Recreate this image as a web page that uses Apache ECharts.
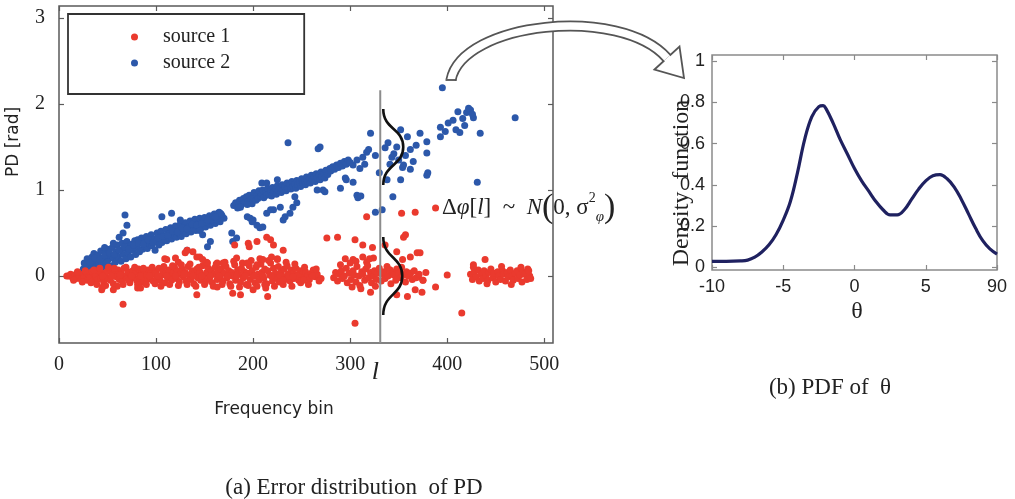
<!DOCTYPE html>
<html><head><meta charset="utf-8">
<script src="https://cdn.jsdelivr.net/npm/echarts@6/dist/echarts.min.js"></script>
<style>html,body{margin:0;padding:0;background:#fff}#c{width:1015px;height:499px}</style>
</head><body><div id="c"></div>
<script>
const seriesNames = ['source 1', 'source 2'];

const source1Points = [
[8,0.00],[10,0.00],[12,0.02],[14,-0.02],[16,0.01],[18,-0.03],[20,0.03],[21,0.00],[23,-0.04],[25,0.02],[26,-0.01],[28,0.04],[29,-0.05],[31,0.01],[32,-0.02],[34,0.05],[35,-0.06],[37,0.02],[38,0.00],[40,-0.04],[41,0.06],[43,-0.02],[44,0.03],[46,-0.07],[47,0.01],[49,0.05],[50,-0.03],[52,0.08],[53,-0.05],[55,0.02],[56,-0.09],[58,0.04],[59,-0.01],[61,0.07],[62,-0.04],[64,0.03],[65,-0.06],[67,0.09],[68,0.00],[70,-0.03],[71,0.05],[73,-0.08],[74,0.02],[76,0.06],[77,-0.02],[79,0.04],[80,-0.05],[82,0.08],[83,-0.01],[85,0.03],[86,-0.07],[88,0.05],[89,0.00],[91,-0.04],[92,0.07],[94,-0.02],[95,0.04],[97,-0.06],[98,0.02],[100,0.06],[101,-0.03],[103,0.09],[104,-0.05],[106,0.01],[107,0.05],[109,-0.08],[110,0.03],[112,-0.02],[113,0.07],[115,0.00],[116,-0.05],[118,0.04],[119,0.10],[121,-0.03],[122,0.06],[124,-0.07],[125,0.02],[127,0.08],[128,-0.01],[130,0.04],[131,-0.06],[133,0.11],[134,0.01],[136,-0.04],[137,0.06],[139,-0.09],[140,0.03],[142,0.08],[143,-0.02],[145,0.05],[146,-0.05],[148,0.12],[149,0.00],[151,-0.07],[152,0.04],[154,0.09],[155,-0.03],[157,0.06],[158,-0.08],[160,0.02],[161,0.10],[163,-0.04],[164,0.05],[166,-0.01],[167,0.08],[169,-0.06],[170,0.03],[172,0.11],[173,-0.02],[175,0.06],[176,-0.09],[178,0.04],[179,0.00],[181,0.13],[182,-0.05],[184,0.07],[185,0.02],[187,-0.07],[188,0.09],[190,-0.02],[191,0.05],[193,-0.10],[194,0.03],[196,0.12],[197,-0.04],[199,0.06],[200,0.00],[202,-0.08],[203,0.10],[205,0.02],[206,-0.05],[208,0.14],[209,0.04],[211,-0.03],[212,0.08],[214,-0.09],[215,0.06],[217,0.01],[218,0.15],[220,-0.06],[221,0.09],[223,0.03],[224,-0.02],[226,0.11],[227,-0.07],[229,0.05],[230,0.00],[232,0.08],[233,-0.04],[235,0.12],[236,0.02],[238,-0.06],[239,0.07],[241,0.03],[242,-0.03],[244,0.09],[245,0.01],[247,-0.05],[248,0.06],[250,0.02],[252,-0.02],[254,0.05],[256,0.00],[258,-0.04],[260,0.03],[262,0.07],[264,-0.01],[266,0.02],[270,-0.03],
[15,-0.05],[19,0.05],[24,-0.07],[27,0.06],[33,-0.08],[36,0.07],[39,-0.10],[42,0.09],[45,0.00],[48,-0.11],[51,0.10],[54,0.00],[57,0.09],[60,-0.12],[63,0.01],[66,-0.10],[69,0.10],[72,-0.05],[75,0.00],[78,0.10],[81,-0.10],[84,0.00],[87,0.09],[90,-0.10],[93,0.00],[96,0.10],[99,-0.09],[102,0.00],[105,-0.12],[108,0.11],[111,0.00],[114,-0.10],[117,0.12],[120,0.00],[123,-0.11],[126,0.13],[129,0.02],[132,-0.10],[135,0.14],[138,0.00],[141,-0.12],[144,0.10],[147,0.00],[150,-0.10],[153,0.15],[156,0.00],[159,-0.12],[162,0.14],[165,0.00],[168,-0.10],[171,0.16],[174,0.00],[177,-0.12],[180,0.17],[183,0.00],[186,-0.13],[189,0.15],[192,0.00],[195,-0.11],[198,0.18],[201,0.00],[204,-0.12],[207,0.20],[210,0.00],[213,-0.14],[216,0.18],[219,0.00],[222,-0.12],[225,0.20],[228,0.00],[231,-0.10],[234,0.16],[237,0.00],[240,-0.12],[243,0.14],[246,0.00],[249,-0.08],[253,0.10],[257,-0.10],[261,0.00],[265,0.08],[268,-0.06],
[109,0.20],[120,0.21],[130,0.27],[138,0.28],[145,0.22],[152,0.16],[181,0.36],[183,0.21],[195,0.38],[196,0.34],[204,0.40],[214,0.45],[218,0.42],[221,0.36],[219,0.22],[225,0.19],[231,0.30],[194,0.15],[204,0.13],[210,0.19],[111,0.19],[123,0.16],[132,0.30],[142,0.22],[148,0.19],[163,0.15],[169,0.15],
[142,-0.22],[66,-0.33],[81,-0.14],[84,-0.14],[44,-0.16],[45,-0.13],[56,-0.16],[215,-0.24],[179,-0.20],[187,-0.22],[163,-0.13],[200,-0.16],[231,-0.05],[241,-0.01],[250,-0.05],[212,-0.10],[252,-0.05],
[276,0.44],[287,0.45],[305,0.42],[313,0.36],[317,0.69],[305,-0.55],[323,0.33],[303,0.19],[313,0.22],[317,0.16],[324,0.21],[336,0.36],[348,0.28],[354,0.19],[362,0.22],[369,0.27],[357,0.48],[355,0.45],[372,0.27],[353,0.73],[367,0.74],[388,0.79],[341,0.07],[351,0.01],[362,0.03],[370,-0.01],[375,-0.05],[348,-0.22],[359,-0.24],[367,-0.16],[374,-0.19],[388,-0.13],[400,0.01],[415,-0.43],[439,0.19],[427,0.13],
[283,-0.02],[285,0.04],[287,-0.06],[289,0.02],[291,0.06],[292,-0.03],[294,0.00],[296,0.09],[297,-0.08],[299,0.03],[300,0.15],[301,-0.04],[303,0.06],[304,0.01],[306,-0.07],[307,0.11],[309,0.00],[310,-0.11],[312,0.05],[313,0.02],[315,-0.05],[316,0.08],[318,0.12],[319,-0.02],[321,0.04],[322,-0.08],[324,0.00],[325,0.06],[327,-0.04],[328,0.03],[330,0.09],[332,-0.06],[333,0.02],[335,0.05],[336,-0.03],[338,0.11],[339,0.00],[341,0.07],[342,-0.09],[344,0.04],[345,0.01],[347,-0.05],[348,0.08],[350,0.03],[352,-0.02],[353,0.10],[355,0.01],[357,-0.07],[358,0.05],[360,0.00],[362,0.03],[364,-0.04],[366,0.06],[368,-0.02],[371,0.02],[375,-0.05],[378,0.04],[295,0.20],[290,0.13],[306,0.17],[320,0.20],[311,-0.15],[326,-0.12],[302,-0.13],[321,-0.19],
[424,0.02],[426,-0.04],[428,0.05],[430,-0.01],[432,0.07],[433,-0.06],[435,0.02],[437,-0.03],[438,0.06],[440,0.00],[442,-0.05],[443,0.04],[445,0.08],[447,-0.02],[448,0.03],[450,-0.07],[452,0.05],[453,0.00],[455,-0.04],[457,0.06],[458,0.02],[460,-0.06],[462,0.04],[463,-0.01],[465,0.07],[467,0.00],[468,-0.05],[470,0.03],[472,0.06],[473,-0.03],[475,0.01],[477,-0.07],[478,0.05],[480,0.02],[482,-0.04],[483,0.08],[485,0.00],[486,-0.03],[427,0.10],[441,-0.09],[456,0.11],[466,-0.10],[476,0.10],[484,0.06]
];

const source2Points = [
[25,0.08],[26,0.15],[28,0.10],[29,0.20],[30,0.12],[31,0.18],[33,0.09],[34,0.22],[35,0.14],[36,0.26],[38,0.11],[39,0.19],[40,0.24],[41,0.13],[43,0.29],[44,0.17],[45,0.21],[46,0.10],[48,0.27],[49,0.15],[50,0.31],[51,0.19],[53,0.24],[54,0.12],[55,0.33],[56,0.21],[58,0.16],[59,0.28],[60,0.36],[61,0.22],[63,0.30],[64,0.17],[65,0.38],[66,0.25],[68,0.32],[69,0.20],[70,0.40],[71,0.27],[73,0.35],[74,0.22],[75,0.37],[76,0.30],[78,0.41],[79,0.25],[80,0.33],[81,0.42],[83,0.28],[84,0.38],[85,0.44],[86,0.31],[88,0.40],[89,0.34],[90,0.46],[91,0.32],[93,0.41],[94,0.36],[95,0.48],[96,0.35],[98,0.43],[99,0.30],[100,0.40],[101,0.50],[103,0.36],[104,0.45],[105,0.52],[106,0.39],[108,0.47],[109,0.42],[110,0.54],[111,0.41],[113,0.49],[114,0.44],[115,0.56],[116,0.43],[118,0.51],[119,0.47],[120,0.58],[121,0.45],[123,0.53],[124,0.49],[125,0.60],[126,0.46],[128,0.55],[129,0.51],[130,0.62],[131,0.49],[133,0.57],[134,0.53],[135,0.64],[136,0.51],[138,0.59],[139,0.55],[140,0.66],[141,0.53],[143,0.61],[144,0.57],[145,0.67],[146,0.55],[148,0.63],[149,0.59],[150,0.68],[151,0.57],[153,0.64],[154,0.61],[155,0.70],[156,0.59],[158,0.66],[159,0.63],[160,0.72],[161,0.61],[163,0.68],[164,0.65],[165,0.74],[166,0.63],[168,0.70],[170,0.67],
[27,0.13],[32,0.16],[37,0.21],[42,0.19],[47,0.24],[52,0.27],[57,0.25],[62,0.30],[67,0.34],[72,0.31],[77,0.36],[82,0.38],[87,0.37],[92,0.42],[97,0.39],[102,0.44],[107,0.46],[112,0.47],[117,0.52],[122,0.51],[127,0.56],[132,0.55],[137,0.60],[142,0.59],[147,0.61],[152,0.63],[157,0.65],[162,0.66],[167,0.72],
[180,0.82],[182,0.85],[184,0.79],[186,0.88],[188,0.83],[190,0.90],[191,0.85],[193,0.92],[195,0.87],[196,0.94],[198,0.89],[199,0.84],[200,0.91],[201,0.97],[203,0.88],[204,0.94],[205,0.90],[206,0.99],[208,0.93],[209,0.96],[210,1.00],[211,0.91],[213,0.97],[214,0.94],[215,1.02],[216,0.95],[218,0.99],[219,0.93],[220,1.03],[221,0.97],[223,1.01],[224,0.95],[225,1.05],[226,0.99],[228,1.02],[229,0.97],[230,1.06],[231,1.00],[233,1.04],[234,0.99],[235,1.08],[236,1.02],[238,1.06],[239,1.01],[240,1.10],[241,1.04],[243,1.07],[244,1.02],[245,1.11],[246,1.06],[248,1.09],[249,1.04],[250,1.13],[251,1.08],[253,1.11],[254,1.06],[255,1.15],[256,1.10],[258,1.13],[259,1.08],[260,1.17],[261,1.12],[263,1.15],[264,1.10],[265,1.19],[266,1.14],[268,1.17],[269,1.12],[270,1.21],[271,1.16],[273,1.19],[274,1.14],[275,1.23],[277,1.18],[279,1.25],[280,1.22],[282,1.27],[284,1.24],[286,1.29],[288,1.26],[290,1.31],[292,1.28],[294,1.33],[296,1.30],[298,1.35],[300,1.32],[303,1.29],
[68,0.71],[70,0.59],[66,0.50],[106,0.69],[116,0.73],[125,0.65],[132,0.30],[145,0.53],[148,0.48],[156,0.40],[153,0.34],[164,0.73],[159,0.69],[178,0.50],[183,0.44],[179,0.40],[185,0.80],[194,0.83],[194,0.69],[200,0.65],[204,0.59],[210,0.57],[231,0.65],[233,0.69],[214,0.73],[221,0.77],[228,0.80],[238,0.73],[241,0.80],[266,1.00],[272,1.00],[236,1.55],[267,1.48],[225,1.12],[209,1.08],[214,1.08],[303,1.09],[307,0.94],[308,0.91],[290,1.02],[274,0.98],[295,1.14],[296,1.12],[317,1.44],[307,1.35],[313,1.38],[245,0.85],[243,0.92],[218,0.77],[197,0.67],[199,0.63],[207,0.56],[187,0.80],[166,0.73],[161,0.69],[153,0.65],[269,1.50],[311,0.93],
[321,1.66],[319,1.47],[336,1.49],[339,1.55],[343,1.38],[348,1.50],[352,1.70],[359,1.62],[362,1.47],[365,1.33],[372,1.66],[379,1.56],[379,1.43],[380,1.20],[338,1.12],[344,0.92],[352,1.12],[354,1.26],[355,1.29],[362,1.24],[326,0.74],[333,0.77],[393,1.73],[401,1.78],[406,1.81],[411,1.91],[420,1.90],[424,1.93],[427,1.84],[434,1.66],[413,1.67],[393,1.62],[395,2.19],[470,1.84],[431,1.09],[379,1.17],[47,0.33],[56,0.38],[62,0.45],[345,1.42],[350,1.35],[341,1.30],[357,1.40],[368,1.52],[330,1.20],[326,1.40],[315,1.30],[310,1.25],[416,1.83],[418,1.75],[409,1.70],[398,1.68],[422,1.95],[426,1.88]
];

const binTicks = [0, 100, 200, 300, 400, 500];
const pdTicks = [0, 1, 2, 3];
const markerBin = 331;

const thetaValues = [-10,-9,-8,-7.5,-7,-6.5,-6,-5.5,-5,-4.5,-4,-3.5,-3,-2.5,-2.2,-2,-1.5,-1,-0.5,0,0.5,1,1.5,2,2.5,3,3.5,4,4.5,5,5.5,6,6.5,7,7.5,8,8.5,9,9.5,10];
const densityValues = [0.03,0.03,0.032,0.036,0.05,0.075,0.11,0.16,0.23,0.32,0.46,0.62,0.73,0.78,0.785,0.77,0.70,0.62,0.55,0.48,0.42,0.37,0.32,0.28,0.255,0.255,0.28,0.33,0.38,0.42,0.445,0.45,0.43,0.39,0.33,0.26,0.19,0.13,0.09,0.065];
const thetaTicks = [-10, -5, 0, 5, 10];
const thetaTickLabels = ['-10', '-5', '0', '5', '90'];
const densityTicks = [0, 0.2, 0.4, 0.6, 0.8, 1];

const chart = echarts.init(document.getElementById('c'), null, {renderer: 'canvas'});
const serif = 'Liberation Serif, Times New Roman, serif';
const sans = 'Liberation Sans, Arial, sans-serif';
const frameL = '#5a5a5a';
const frameR = '#8a8a8a';

function tickAxis(gridIndex, pos, min, max, ticks, color, labelOpts) {
  const ax = {
    type: 'value', gridIndex: gridIndex, position: pos, min: min, max: max,
    axisLine: {show: false, onZero: false},
    axisTick: {show: true, inside: true, length: 5, customValues: ticks, lineStyle: {color: color, width: 1.2}},
    splitLine: {show: false},
    axisLabel: {show: false, customValues: ticks}
  };
  if (labelOpts) ax.axisLabel = Object.assign({show: true, customValues: ticks}, labelOpts);
  return ax;
}

const option = {
  animation: false,
  backgroundColor: '#fff',
  grid: [
    {left: 59, top: 6, width: 494, height: 337, show: true, borderColor: frameL, borderWidth: 1.5, backgroundColor: 'transparent'},
    {left: 712, top: 55, width: 285, height: 215, show: true, borderColor: frameR, borderWidth: 1.5, backgroundColor: 'transparent'}
  ],
  xAxis: [
    tickAxis(0, 'bottom', 0, 509, binTicks, frameL, {margin: 12, fontFamily: serif, fontSize: 20, color: '#222'}),
    tickAxis(0, 'top', 0, 509, binTicks, frameL),
    tickAxis(1, 'bottom', -10, 10, thetaTicks, frameR, {margin: 8, fontFamily: sans, fontSize: 18, color: '#222',
      formatter: function (v) { return thetaTickLabels[thetaTicks.indexOf(v)]; }}),
    tickAxis(1, 'top', -10, 10, thetaTicks, frameR)
  ],
  yAxis: [
    tickAxis(0, 'left', -0.78, 3.14, pdTicks, frameL, {margin: 14, fontFamily: serif, fontSize: 20, color: '#222'}),
    tickAxis(0, 'right', -0.78, 3.14, pdTicks, frameL),
    tickAxis(1, 'left', -0.012, 1.03, densityTicks, frameR, {margin: 7, fontFamily: sans, fontSize: 18, color: '#222'}),
    tickAxis(1, 'right', -0.012, 1.03, densityTicks, frameR)
  ],
  legend: {
    data: seriesNames, orient: 'vertical', left: 68, top: 14,
    padding: [13, 74, 21, 63], itemGap: 6, itemWidth: 7, itemHeight: 7, icon: 'circle',
    borderColor: '#333', borderWidth: 1.8, selectedMode: false,
    textStyle: {fontFamily: serif, fontSize: 20, color: '#222', padding: [0, 0, 0, 20]}
  },
  series: [
    {name: seriesNames[1], type: 'scatter', xAxisIndex: 0, yAxisIndex: 0, data: source2Points,
      symbolSize: 7, itemStyle: {color: '#2c58aa', opacity: 1}},
    {name: seriesNames[0], type: 'scatter', xAxisIndex: 0, yAxisIndex: 0, data: source1Points,
      symbolSize: 7, itemStyle: {color: '#ea3a2e', opacity: 1}},
    {name: 'density', type: 'line', xAxisIndex: 2, yAxisIndex: 2, smooth: 0.4, showSymbol: false,
      data: thetaValues.map(function (t, i) { return [t, densityValues[i]]; }),
      lineStyle: {color: '#1f2160', width: 3.2}}
  ]
};
chart.setOption(option);

// Decorations anchored to the scatter plot's own scales
const lineTop = chart.convertToPixel({seriesIndex: 0}, [markerBin, 2.16]);
const lineBot = chart.convertToPixel({seriesIndex: 0}, [markerBin, -0.78]);
const up = chart.convertToPixel({seriesIndex: 0}, [markerBin, 1.5]);
const low = chart.convertToPixel({seriesIndex: 0}, [markerBin, 0]);
const lx = lineTop[0];
const fStyle = {fill: null, stroke: '#111', lineWidth: 2.6};
function bump(cy, half, amp, z) {
  const x0 = lx + 3, x1 = lx + 3 + amp;
  return [
    {type: 'bezierCurve', z: z, shape: {x1: x0, y1: cy - half, cpx1: x0, cpy1: cy - half * 0.45, cpx2: x1, cpy2: cy - half * 0.5, x2: x1, y2: cy}, style: fStyle},
    {type: 'bezierCurve', z: z, shape: {x1: x1, y1: cy, cpx1: x1, cpy1: cy + half * 0.5, cpx2: x0, cpy2: cy + half * 0.45, x2: x0, y2: cy + half}, style: fStyle}
  ];
}

const arrowCurve = {x1: 451, y1: 80, cpx1: 462, cpy1: 22, cpx2: 620, cpy2: 5, x2: 667, y2: 58};
const graphics = [
  {type: 'line', shape: {x1: lx, y1: lineTop[1], x2: lx, y2: lineBot[1]}, style: {stroke: '#8c8c8c', lineWidth: 2}, z: 10}
].concat(bump(up[1], 38, 20, 11), bump(low[1], 39, 19, 11), [
  {type: 'bezierCurve', shape: arrowCurve, style: {stroke: '#555', lineWidth: 11, fill: null}, z: 12},
  {type: 'polygon', shape: {points: [[654.5, 69.5], [679.5, 46.5], [684, 78]]}, style: {fill: '#fff', stroke: '#555', lineWidth: 1.8}, z: 13},
  {type: 'bezierCurve', shape: arrowCurve, style: {stroke: '#fff', lineWidth: 7.5, fill: null}, z: 14},
  {type: 'line', shape: {x1: 667, y1: 58, x2: 668.5, y2: 59.7}, style: {stroke: '#fff', lineWidth: 7.5}, z: 14},
  {type: 'line', shape: {x1: 445.5, y1: 80, x2: 456.5, y2: 80}, style: {stroke: '#555', lineWidth: 1.8}, z: 15},
  {type: 'text', x: 14, y: 142, rotation: Math.PI / 2, style: {text: 'PD [rad]', font: '17px DejaVu Sans', fill: '#222', align: 'center', verticalAlign: 'middle'}},
  {type: 'text', x: 274, y: 410, style: {text: 'Frequency bin', font: '17px DejaVu Sans', fill: '#222', align: 'center', verticalAlign: 'middle'}},
  {type: 'text', x: 354, y: 488, style: {text: '(a) Error distribution  of PD', font: '23px Liberation Serif', fill: '#222', align: 'center', verticalAlign: 'middle'}},
  {type: 'text', x: 830, y: 388, style: {text: '(b) PDF of  θ', font: '23px Liberation Serif', fill: '#222', align: 'center', verticalAlign: 'middle'}},
  {type: 'text', x: 857, y: 312, style: {text: 'θ', font: '24px Liberation Serif', fill: '#222', align: 'center', verticalAlign: 'middle'}},
  {type: 'text', x: 682, y: 183, rotation: Math.PI / 2, style: {text: 'Density  function', font: '24px Liberation Serif', fill: '#222', align: 'center', verticalAlign: 'middle'}},
  {type: 'text', x: lx - 5, y: 372, style: {text: 'l', font: 'italic 26px Liberation Serif', fill: '#222', align: 'center', verticalAlign: 'middle'}},
  {type: 'text', x: 442, y: 208, z: 20, style: {
    text: '{a|Δ}{i|φ}{a|[}{i|l}{a|]  ~  }{i|N}{p|(}{a|0, σ}{sup|2}{sub|φ}{p|)}',
    align: 'left', verticalAlign: 'middle', fill: '#222',
    rich: {
      a: {fontFamily: serif, fontSize: 23, fill: '#222'},
      i: {fontFamily: serif, fontStyle: 'italic', fontSize: 23, fill: '#222'},
      p: {fontFamily: serif, fontSize: 34, fill: '#222'},
      sup: {fontFamily: serif, fontSize: 14, fill: '#222', verticalAlign: 'top'},
      sub: {fontFamily: serif, fontStyle: 'italic', fontSize: 15, fill: '#222', verticalAlign: 'bottom'}
    }
  }}
]);
chart.setOption({graphic: graphics});
</script></body></html>
